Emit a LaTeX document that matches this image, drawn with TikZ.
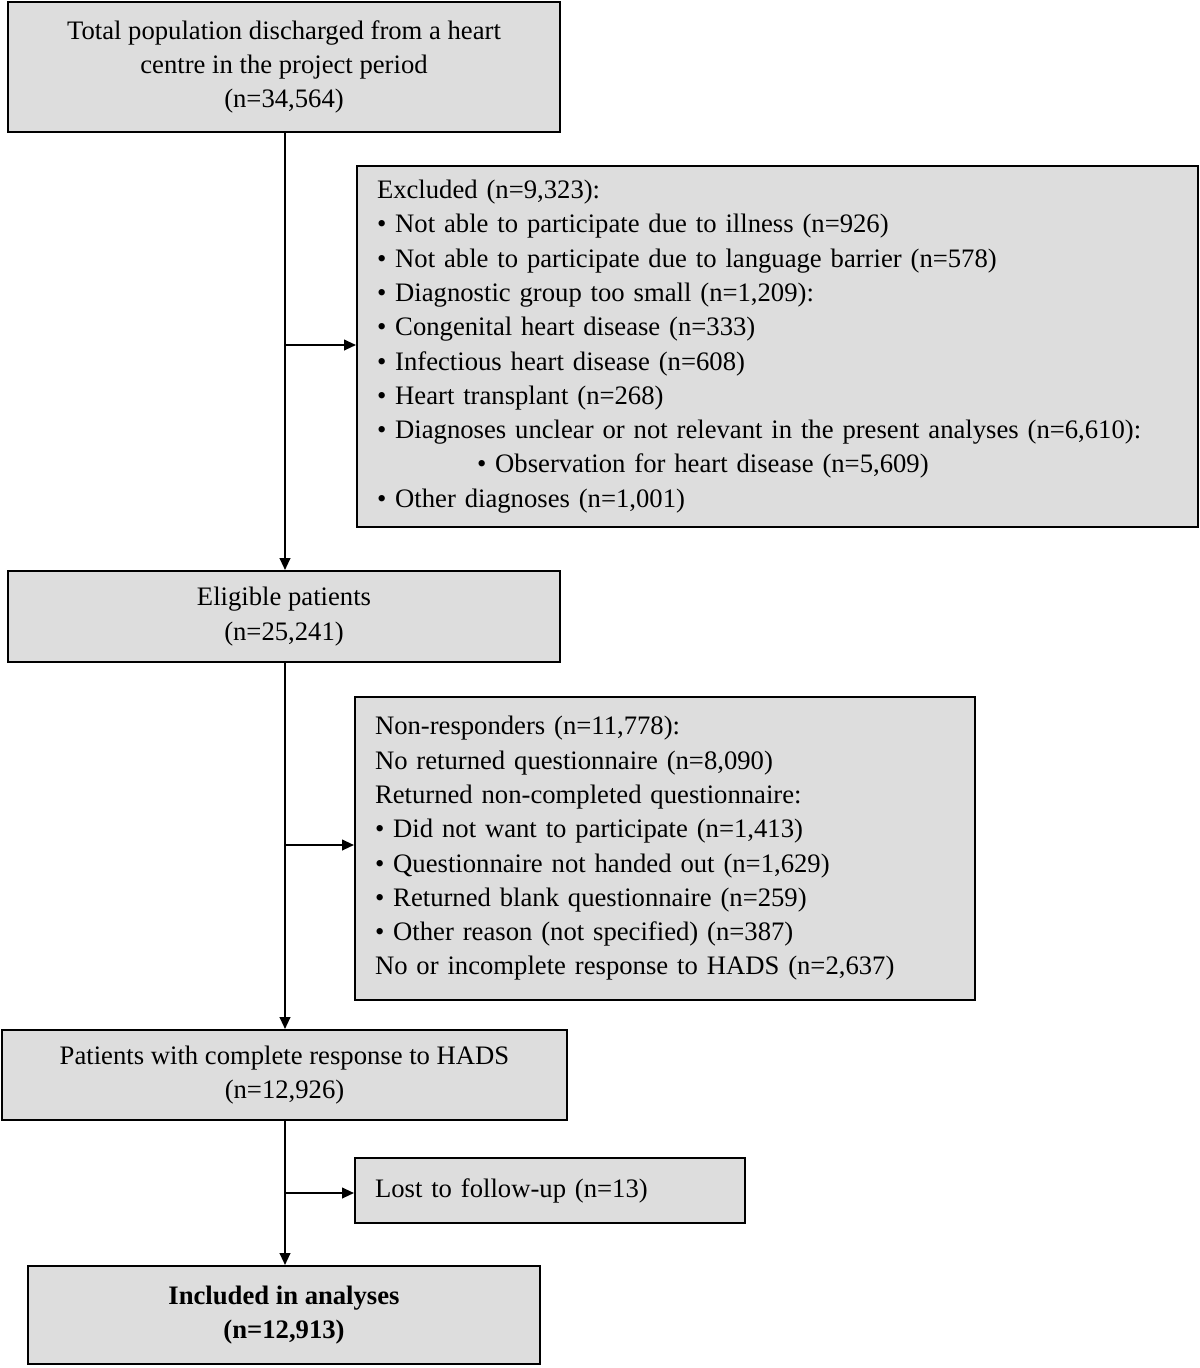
\documentclass[tikz,border=0pt]{standalone}
\usepackage{fontspec}
\setmainfont{Liberation Serif}
\usetikzlibrary{positioning,arrows.meta}

\tikzset{
  box/.style={draw, line width=1.5pt, fill={rgb,255:red,221;green,221;blue,221}, align=center, font=\fontsize{20}{25.7}\selectfont, inner sep=0pt},
  listbox/.style={box, align=left, inner xsep=15pt},
  flow/.style={line width=1.5pt, -{Triangle[length=9pt,width=8pt]}}
}

\begin{document}
\begin{tikzpicture}[x=0.75pt,y=0.75pt,yscale=-1,xscale=1]
\path[use as bounding box] (0,0) rectangle (1200,1368);

%Boxes of the main column
\node[box, minimum width=414pt, minimum height=97.5pt] (total) at (284,67) {Total population discharged from a heart\\centre in the project period\\(n=34,564)};
\node[box, minimum width=414pt, minimum height=68.25pt] (eligible) at (284,616.5) {Eligible patients\\(n=25,241)};
\node[box, minimum width=423.75pt, minimum height=67.5pt] (hads) at (284.5,1075) {Patients with complete response to HADS\\(n=12,926)};
\node[box, minimum width=384pt, minimum height=73.5pt, font=\fontsize{20}{25.7}\selectfont\bfseries] (included) at (284,1315) {Included in analyses\\(n=12,913)};

%Boxes on the right
\node[listbox, minimum width=630.75pt, minimum height=270.75pt, text width=600.75pt] (excluded) at (777.5,346.5) {Excluded (n=9,323):\\
\textbullet\ Not able to participate due to illness (n=926)\\
\textbullet\ Not able to participate due to language barrier (n=578)\\
\textbullet\ Diagnostic group too small (n=1,209):\\
\textbullet\ Congenital heart disease (n=333)\\
\textbullet\ Infectious heart disease (n=608)\\
\textbullet\ Heart transplant (n=268)\\
\textbullet\ Diagnoses unclear or not relevant in the present analyses (n=6,610):\\
\hspace*{75pt}\textbullet\ Observation for heart disease (n=5,609)\\
\textbullet\ Other diagnoses (n=1,001)};
\node[listbox, minimum width=465pt, minimum height=227.25pt, text width=435pt] (nonresp) at (665,848.5) {Non-responders (n=11,778):\\
No returned questionnaire (n=8,090)\\
Returned non-completed questionnaire:\\
\textbullet\ Did not want to participate (n=1,413)\\
\textbullet\ Questionnaire not handed out (n=1,629)\\
\textbullet\ Returned blank questionnaire (n=259)\\
\textbullet\ Other reason (not specified) (n=387)\\
No or incomplete response to HADS (n=2,637)};
\node[listbox, minimum width=292.5pt, minimum height=48.75pt, text width=262.5pt] (lost) at (550,1190.5) {Lost to follow-up (n=13)};

%Connectors
\coordinate (j1) at (285,345);
\coordinate (j2) at (285,845);
\coordinate (j3) at (285,1193);
\draw[flow] (total.south -| j1) -- (eligible.north -| j1);
\draw[flow] (eligible.south -| j2) -- (hads.north -| j2);
\draw[flow] (hads.south -| j3) -- (included.north -| j3);
\draw[flow] (j1) -- (j1 -| excluded.west);
\draw[flow] (j2) -- (j2 -| nonresp.west);
\draw[flow] (j3) -- (j3 -| lost.west);
\end{tikzpicture}
\end{document}
